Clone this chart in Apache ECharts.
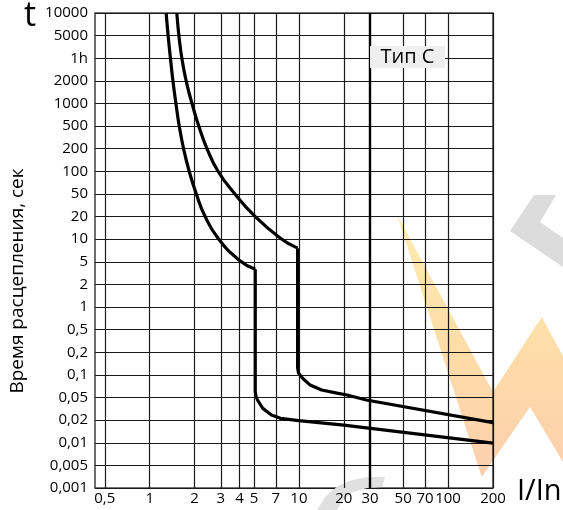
<!DOCTYPE html>
<html><head><meta charset="utf-8">
<script src="https://cdn.jsdelivr.net/npm/echarts@6/dist/echarts.min.js"></script>
<style>html,body{margin:0;padding:0;background:#fff}#c{width:563px;height:510px}</style>
</head><body><div id="c"></div>
<script>
// Y axis: equally spaced time marks (seconds), bottom to top
const yTickValues = [0.001,0.005,0.01,0.02,0.05,0.1,0.2,0.5,1,2,5,10,20,50,100,200,500,1000,2000,3600,5000,10000];
const yTickLabels = ['0,001','0,005','0,01','0,02','0,05','0,1','0,2','0,5','1','2','5','10','20','50','100','200','500','1000','2000','1h','5000','10000'];
// X axis: multiples of rated current
const xTickValues = [0.5,1,2,3,4,5,7,10,20,30,50,70,100,200];
const xTickLabels = ['0,5','1','2','3','4','5','7','10','20','30','50','70','100','200'];

// Lower (cold) curve: thermal part
const lowThermalI = [1.289,1.332,1.380,1.434,1.500,1.580,1.688,1.838,2.047,2.340,2.872,3.961,5.1];
const lowThermalT = [10000,4900,3500,1950,990,490,199,101,51,20.7,10.3,5.3,3.7];
// Lower curve: magnetic part
const lowMagI = [5.1,5.1,5.16,5.28,5.73,6.55,7.52,9.96,20,200];
const lowMagT = [3.7,0.0600,0.0520,0.0452,0.0322,0.0247,0.0215,0.0197,0.0172,0.0099];

// Upper (hot) curve: thermal part
const upThermalI = [1.520,1.573,1.647,1.760,1.924,2.138,2.424,2.863,3.692,5.025,7.517,9.8];
const upThermalT = [10000,4900,3500,1950,990,490,199,101,51,20.7,10.3,7.6];
// Upper curve: magnetic part
const upMagI = [9.8,9.8,9.95,10.6,11.9,14.2,18.0,21,28.3,200];
const upMagT = [7.6,0.125,0.105,0.0901,0.0732,0.0629,0.0571,0.054,0.0452,0.0185];

// piecewise-log scale of the time axis (marks equally spaced)
function toIdx(t){
  const v = yTickValues;
  if (t <= v[0]) return 0;
  for (let i = 0; i < v.length - 1; i++) {
    if (t <= v[i+1]) return i + Math.log(t / v[i]) / Math.log(v[i+1] / v[i]);
  }
  return v.length - 1;
}
const pts = (I, T) => I.map((x, k) => [x, toIdx(T[k])]);

const FONT = 'Open Sans';
const curveStyle = {color:'#000', width:3.2};
const chart = echarts.init(document.getElementById('c'), null, {renderer:'canvas'});
chart.setOption({
  animation:false,
  backgroundColor:'#fff',
  grid:{left:95, top:13, right:70, bottom:22, show:true, borderColor:'#4a4a4a', borderWidth:1.6, containLabel:false, outerBoundsMode:'none'},
  xAxis:{type:'log', logBase:10, min:0.43, max:200,
    axisLine:{show:false}, axisTick:{show:false}, axisLabel:{show:false}, splitLine:{show:false}, minorSplitLine:{show:false}},
  yAxis:{type:'value', min:0, max:yTickValues.length-1, interval:1,
    axisLine:{show:false}, axisTick:{show:false},
    axisLabel:{color:'#000', fontSize:15, fontFamily:FONT, margin:7, padding:[5,0,0,0],
      formatter: v => yTickLabels[Math.round(v)] ?? ''},
    splitLine:{show:true, lineStyle:{color:'#1a1a1a', width:1.2}}},
  series:[
    {type:'line', data:[], silent:true, z:10,
      markLine:{symbol:'none', silent:true, animation:false,
        label:{show:true, position:'start', formatter:'{b}', distance:3, color:'#000', fontSize:15, fontFamily:FONT},
        lineStyle:{color:'#1a1a1a', width:1.2, type:'solid'},
        emphasis:{disabled:true},
        data: xTickValues.map((v, i) => ({xAxis:v, name:xTickLabels[i],
          lineStyle: v === 30 ? {color:'#000', width:2.4, type:'solid'} : {color:'#1a1a1a', width:1.2, type:'solid'}}))}},
    {type:'line', data:pts(lowThermalI, lowThermalT), smooth:0.5, showSymbol:false, lineStyle:curveStyle, z:12, silent:true},
    {type:'line', data:pts(lowMagI, lowMagT), smooth:false, showSymbol:false, lineStyle:curveStyle, z:12, silent:true},
    {type:'line', data:pts(upThermalI, upThermalT), smooth:0.5, showSymbol:false, lineStyle:curveStyle, z:12, silent:true},
    {type:'line', data:pts(upMagI, upMagT), smooth:false, showSymbol:false, lineStyle:curveStyle, z:12, silent:true}
  ],
  graphic:[
    // watermark fragments
    {type:'polygon', z:5, silent:true, shape:{points:[[510,231],[534,195],[556,195],[540,222],[563,238],[563,267]]},
      style:{fill:'#dcdcdc'}},
    {type:'polygon', z:5, silent:true, shape:{points:[[317,510],[326,496],[338,486],[352,480],[368,477],[385,477],[382,487],[367,488],[353,492],[343,500],[337,510]]},
      style:{fill:'#e0e0e0'}},
    {type:'polygon', z:100, silent:true,
      shape:{points:[[396.7,214],[493,392],[541.7,317],[563,356],[563,462],[530,407],[481.7,477]]},
      style:{blend:'multiply', fill:new echarts.graphic.LinearGradient(0,0,0,1,[{offset:0,color:'#FFEDB0'},{offset:0.5,color:'#FEDDA8'},{offset:1,color:'#FCCFAE'}])}},
    // axis titles
    {type:'text', z:100, left:24, top:-1, style:{text:'t', font:'34px "Open Sans"', fill:'#000'}},
    {type:'text', z:100, left:517, top:477, style:{text:'I/In', font:'29px "Open Sans"', fill:'#000'}},
    {type:'text', z:100, x:18, y:281, rotation:Math.PI/2,
      style:{text:'Время расцепления, сек', font:'19px "Open Sans"', fill:'#000', align:'center', verticalAlign:'middle'}},
    // type label
    {type:'rect', z:100, shape:{x:370, y:46, width:75, height:22}, style:{fill:'#efefef'}},
    {type:'text', z:101, x:407.5, y:57, style:{text:'Тип С', font:'20px "Open Sans"', fill:'#000', align:'center', verticalAlign:'middle'}}
  ]
});
</script>
</body></html>
